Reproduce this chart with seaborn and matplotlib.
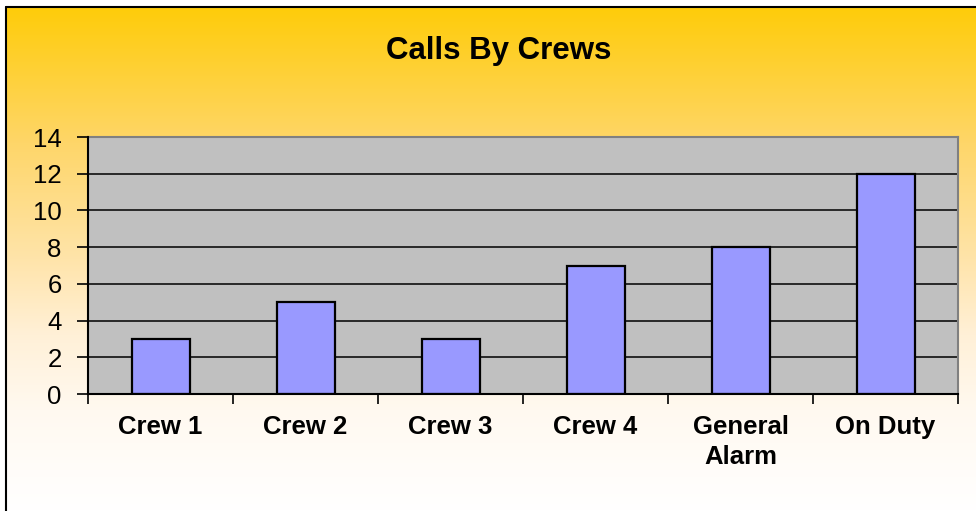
import numpy as np
import matplotlib
matplotlib.use("Agg")
import matplotlib.pyplot as plt
from matplotlib.lines import Line2D
from matplotlib.ticker import FixedLocator
import seaborn as sns

# dados
crews = ["Crew 1", "Crew 2", "Crew 3", "Crew 4", "General\nAlarm", "On Duty"]
calls = [3, 5, 3, 7, 8, 12]
y_ticks = [0, 2, 4, 6, 8, 10, 12, 14]

sns.set_style("white")
plt.rcParams["font.family"] = ["Liberation Sans", "DejaVu Sans"]
plt.rcParams["text.color"] = "black"
plt.rcParams["xtick.color"] = "black"
plt.rcParams["ytick.color"] = "black"
plt.rcParams["xtick.labelcolor"] = "black"
plt.rcParams["ytick.labelcolor"] = "black"

W, H = 976, 511
fig = plt.figure(figsize=(W / 100, H / 100), dpi=100)
fig.patch.set_facecolor("white")

# fundo em degradê (dourado -> branco)
stops = [0.0, 0.27, 0.5, 0.65, 0.8, 1.0]
cols = np.array([
    (255, 204, 10), (254, 214, 105), (255, 228, 170),
    (255, 240, 215), (255, 249, 240), (255, 255, 255)
]) / 255.0
t = np.linspace(0, 1, 300)
grad = np.stack([np.interp(t, stops, cols[:, i]) for i in range(3)], axis=-1)
grad = np.repeat(grad[:, None, :], 2, axis=1)
bg = fig.add_axes([6 / W, 0, 1 - 6 / W, 1 - 8 / H], zorder=-5)
bg.imshow(grad, aspect="auto", extent=[0, 1, 0, 1], origin="upper")
bg.axis("off")

# moldura (esquerda e topo)
fig.add_artist(Line2D([5.5 / W, 5.5 / W], [0, 1 - 7 / H], color="black", lw=1.5, transform=fig.transFigure))
fig.add_artist(Line2D([5.5 / W, 1], [1 - 7 / H, 1 - 7 / H], color="black", lw=1.5, transform=fig.transFigure))

left, right, top, bottom = 88, 958, 137, 394
ax = fig.add_axes([left / W, 1 - bottom / H, (right - left) / W, (bottom - top) / H])
ax.set_facecolor("#C0C0C0")

sns.barplot(x=crews, y=calls, color="#9999FF", edgecolor="black",
            linewidth=1.6, width=0.4, saturation=1, ax=ax, zorder=3)

ax.set_xlim(-0.5, len(crews) - 0.5)
ax.set_ylim(0, 14)
ax.set_yticks(y_ticks)
ax.yaxis.grid(True, color="black", linewidth=1.1, zorder=1)
ax.set_axisbelow(True)

for s in ["top", "right"]:
    ax.spines[s].set_color("#808080")
    ax.spines[s].set_linewidth(1.5)
for s in ["left", "bottom"]:
    ax.spines[s].set_color("black")
    ax.spines[s].set_linewidth(1.5)
    ax.spines[s].set_zorder(4)

ax.tick_params(axis="y", which="major", direction="out", length=8, width=1.2,
               color="black", labelcolor="black", labelsize=18.5, pad=11, left=True)
ax.xaxis.set_minor_locator(FixedLocator(np.arange(-0.5, len(crews), 1.0)))
ax.tick_params(axis="x", which="minor", direction="out", length=7, width=1.2,
               color="black", bottom=True)
ax.tick_params(axis="x", which="major", length=0, pad=15, labelcolor="black")
for lbl in ax.get_xticklabels():
    lbl.set_fontsize(18.5)
    lbl.set_fontweight("bold")
    lbl.set_linespacing(1.35)
    lbl.set_verticalalignment("top")
ax.set_xlabel("")
ax.set_ylabel("")

fig.text(499 / W, 1 - 51 / H, "Calls By Crews", ha="center", va="center",
         fontsize=22.5, fontweight="bold", color="black")

fig.savefig("out.png", dpi=100)
